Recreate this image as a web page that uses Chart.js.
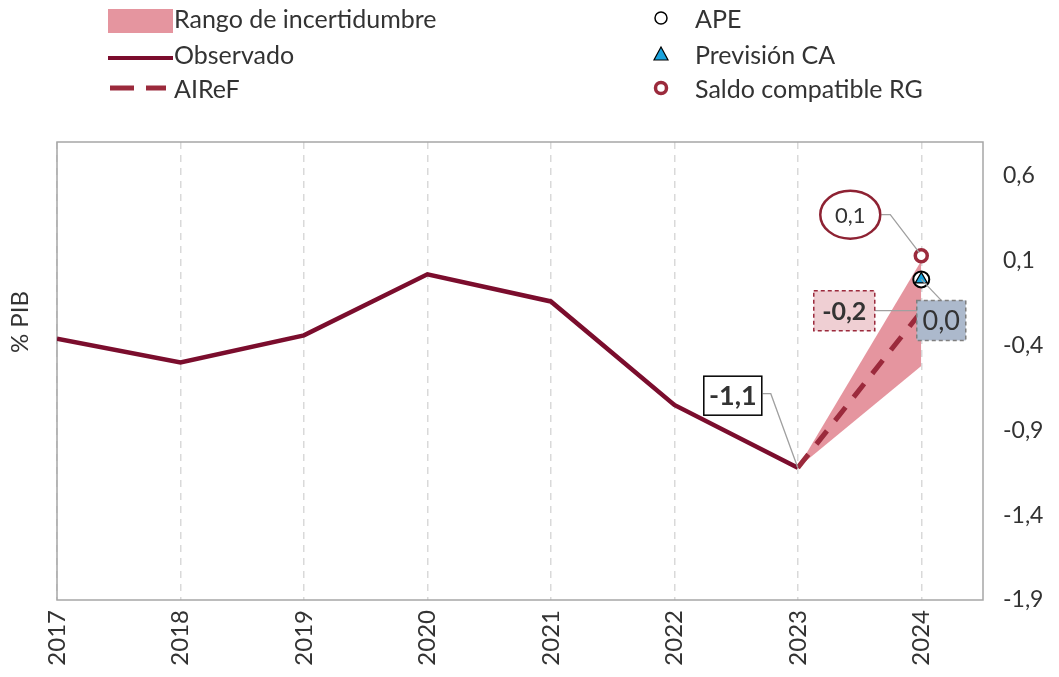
<!DOCTYPE html>
<html>
<head>
<meta charset="utf-8">
<script src="https://cdn.jsdelivr.net/npm/chart.js@4.4.0/dist/chart.umd.min.js"></script>
<style>
  body { margin: 0; background: #fff; font-family: Lato, "DejaVu Sans", sans-serif; color: #333; }
  #wrap { position: relative; width: 1059px; height: 677px; }
  .leg { position: absolute; font-size: 25px; line-height: 28px; height: 28px; white-space: nowrap; color: #333; }
  .ytitle { position: absolute; left: -36px; top: 308px; width: 110px; height: 28px; line-height: 28px; font-size: 24px; font-weight: normal; transform: rotate(-90deg); transform-origin: center; white-space: nowrap; text-align: center; color: #333; }
</style>
</head>
<body>
<div id="wrap">
  <canvas id="chart" width="1059" height="677"></canvas>

  <!-- legend, two columns -->
  <div class="leg" style="left:108px; top:5px;"><span style="display:inline-block;width:65px;height:24px;background:#e5959f;vertical-align:-4px;"></span></div>
  <div class="leg" style="left:174px; top:4px;">Rango de incertidumbre</div>
  <div class="leg" style="left:108px; top:40px;"><span style="display:inline-block;width:65px;height:4px;background:#7b0d2d;vertical-align:middle;"></span></div>
  <div class="leg" style="left:174px; top:40px;">Observado</div>
  <div class="leg" style="left:108px; top:74px;"><svg width="62" height="28"><line x1="2" y1="14" x2="26" y2="14" stroke="#9b2a3c" stroke-width="5"/><line x1="38" y1="14" x2="58" y2="14" stroke="#9b2a3c" stroke-width="5"/></svg></div>
  <div class="leg" style="left:174px; top:74px;">AIReF</div>

  <div class="leg" style="left:650px; top:4px;"><svg width="22" height="28"><circle cx="11" cy="14" r="6" fill="#fff" stroke="#000" stroke-width="1.5"/></svg></div>
  <div class="leg" style="left:695px; top:4px;">APE</div>
  <div class="leg" style="left:650px; top:40px;"><svg width="22" height="28"><polygon points="11,7 18,20 4,20" fill="#1aa3dd" stroke="#000" stroke-width="1.2"/></svg></div>
  <div class="leg" style="left:695px; top:40px;">Previsión CA</div>
  <div class="leg" style="left:650px; top:74px;"><svg width="22" height="28"><circle cx="11" cy="14" r="5.5" fill="#fff" stroke="#9b2a3c" stroke-width="3.5"/></svg></div>
  <div class="leg" style="left:695px; top:74px;">Saldo compatible RG</div>

  <div class="ytitle">% PIB</div>
</div>

<script>
// data
var years = [2017, 2018, 2019, 2020, 2021, 2022, 2023];
var observado = [-0.36, -0.50, -0.34, 0.02, -0.14, -0.75, -1.12];

var forecastYears = [2023, 2024];
var airef = [-1.12, -0.20];
var rangeUpper = [-1.12, 0.10];
var rangeLower = [-1.12, -0.52];

var targetYear = 2024;
var apeValue = -0.01;
var caValue = -0.01;
var rgValue = 0.13;

var xTicks = [2017, 2018, 2019, 2020, 2021, 2022, 2023, 2024];
var yTicks = [-1.9, -1.4, -0.9, -0.4, 0.1, 0.6];

// callout texts
var lblObs = '-1,1';
var lblRG = '0,1';
var lblAiref = '-0,2';
var lblApe = '0,0';

function pts(xs, ys) {
  return xs.map(function (x, i) { return { x: x, y: ys[i] }; });
}

var framePlugin = {
  id: 'frame',
  beforeDatasetsDraw: function (chart) {
    var a = chart.chartArea, c = chart.ctx;
    c.save();
    c.strokeStyle = '#a6a6a6';
    c.lineWidth = 1.5;
    c.strokeRect(a.left, a.top, a.right - a.left, a.bottom - a.top);
    c.restore();
  }
};

function leader(c, points) {
  c.save();
  c.strokeStyle = '#a0a0a0';
  c.lineWidth = 1.3;
  c.setLineDash([]);
  c.beginPath();
  c.moveTo(points[0][0], points[0][1]);
  for (var i = 1; i < points.length; i++) c.lineTo(points[i][0], points[i][1]);
  c.stroke();
  c.restore();
}

function box(c, cx, cy, w, h, fill, stroke, dash, text, font) {
  c.save();
  c.fillStyle = fill;
  c.fillRect(cx - w / 2, cy - h / 2, w, h);
  c.strokeStyle = stroke;
  c.lineWidth = 1.5;
  c.setLineDash(dash);
  c.strokeRect(cx - w / 2, cy - h / 2, w, h);
  c.setLineDash([]);
  c.fillStyle = '#333';
  c.font = font;
  c.textAlign = 'center';
  c.textBaseline = 'middle';
  c.fillText(text, cx, cy + 1);
  c.restore();
}

var calloutPlugin = {
  id: 'callouts',
  afterDatasetsDraw: function (chart) {
    var c = chart.ctx, xs = chart.scales.x, ys = chart.scales.y;

    // -1,1 on the last observed value
    var px = xs.getPixelForValue(years[years.length - 1]);
    var py = ys.getPixelForValue(observado[observado.length - 1]);
    var bx = px - 65, by = py - 72;
    leader(c, [[bx + 30, by - 2], [bx + 38, by - 2], [px, py]]);
    box(c, bx, by, 58, 39, '#fff', '#000', [], lblObs, 'bold 27px Lato');

    // 0,1 saldo compatible RG (ellipse)
    var rx = xs.getPixelForValue(targetYear);
    var ry = ys.getPixelForValue(rgValue);
    var ex = rx - 71, ey = ry - 41;
    leader(c, [[ex + 31, ey], [ex + 40, ey], [rx - 2, ry - 3]]);
    c.save();
    c.beginPath();
    c.ellipse(ex, ey, 30, 24, 0, 0, Math.PI * 2);
    c.fillStyle = '#fff';
    c.fill();
    c.strokeStyle = '#8e2233';
    c.lineWidth = 2.5;
    c.stroke();
    c.fillStyle = '#333';
    c.font = '22px Lato';
    c.textAlign = 'center';
    c.textBaseline = 'middle';
    c.fillText(lblRG, ex, ey + 1);
    c.restore();

    // -0,2 AIReF
    var ax = xs.getPixelForValue(forecastYears[1]);
    var ay = ys.getPixelForValue(airef[1]);
    var abx = ax - 77, aby = ay - 1;
    leader(c, [[abx + 30, aby], [ax - 4, aby]]);
    box(c, abx, aby, 61, 40, '#efcfd3', '#9b2a3c', [4, 3], lblAiref, 'bold 25px Lato');

    // 0,0 APE
    var qx = xs.getPixelForValue(targetYear);
    var qy = ys.getPixelForValue(apeValue);
    var qbx = qx + 20, qby = qy + 41;
    leader(c, [[qx, qy], [qbx, qby - 20]]);
    box(c, qbx, qby, 49, 40, '#acb9cc', '#7f7f7f', [4, 3], lblApe, '27px Lato');
  }
};

var ctx = document.getElementById('chart').getContext('2d');
var chart = new Chart(ctx, {
  type: 'line',
  data: {
    datasets: [{
      label: 'Rango sup',
      data: pts(forecastYears, rangeUpper),
      borderWidth: 0,
      pointRadius: 0,
      fill: false,
      order: 10
    }, {
      label: 'Rango de incertidumbre',
      data: pts(forecastYears, rangeLower),
      borderWidth: 0,
      pointRadius: 0,
      backgroundColor: '#e5959f',
      fill: '-1',
      order: 9
    }, {
      label: 'Observado',
      data: pts(years, observado),
      borderColor: '#7b0d2d',
      borderWidth: 4.5,
      pointRadius: 0,
      tension: 0,
      order: 8
    }, {
      label: 'AIReF',
      data: pts(forecastYears, airef),
      borderColor: '#9b2a3c',
      borderWidth: 5,
      borderDash: [17, 13],
      pointRadius: 0,
      order: 7
    }, {
      label: 'Saldo compatible RG',
      data: [{ x: targetYear, y: rgValue }],
      showLine: false,
      pointRadius: 6,
      pointBackgroundColor: '#fff',
      pointBorderColor: '#9b2a3c',
      pointBorderWidth: 3.5,
      order: 3
    }, {
      label: 'APE',
      data: [{ x: targetYear, y: apeValue }],
      showLine: false,
      pointRadius: 8,
      pointBackgroundColor: '#fff',
      pointBorderColor: '#000',
      pointBorderWidth: 2,
      order: 2
    }, {
      label: 'Previsión CA',
      data: [{ x: targetYear, y: caValue }],
      showLine: false,
      pointStyle: 'triangle',
      pointRadius: 7,
      pointBackgroundColor: '#1aa3dd',
      pointBorderColor: '#000',
      pointBorderWidth: 1.2,
      order: 1
    }]
  },
  options: {
    responsive: false,
    animation: false,
    layout: { padding: { left: 57, top: 142, right: 0, bottom: 0 } },
    plugins: {
      legend: { display: false },
      tooltip: { enabled: false }
    },
    scales: {
      x: {
        type: 'linear',
        min: 2017,
        max: 2024.5,
        afterBuildTicks: function (s) { s.ticks = xTicks.map(function (v) { return { value: v }; }); },
        afterFit: function (s) { s.height = 77; },
        ticks: {
          autoSkip: false,
          minRotation: 90,
          maxRotation: 90,
          padding: 10,
          color: '#333',
          font: { family: 'Lato', size: 24 },
          callback: function (v) { return String(v); }
        },
        grid: { color: '#d9d9d9', lineWidth: 1.5, drawTicks: false },
        border: { display: false, dash: [7, 6] }
      },
      y: {
        position: 'right',
        min: -1.9,
        max: 0.8,
        afterBuildTicks: function (s) { s.ticks = yTicks.map(function (v) { return { value: v }; }); },
        afterFit: function (s) { s.width = 76; },
        ticks: {
          padding: 20,
          color: '#333',
          font: { family: 'Lato', size: 23 },
          callback: function (v) { return v.toFixed(1).replace('.', ','); }
        },
        grid: { display: false, drawTicks: false },
        border: { display: false }
      }
    }
  },
  plugins: [framePlugin, calloutPlugin]
});
</script>
</body>
</html>
